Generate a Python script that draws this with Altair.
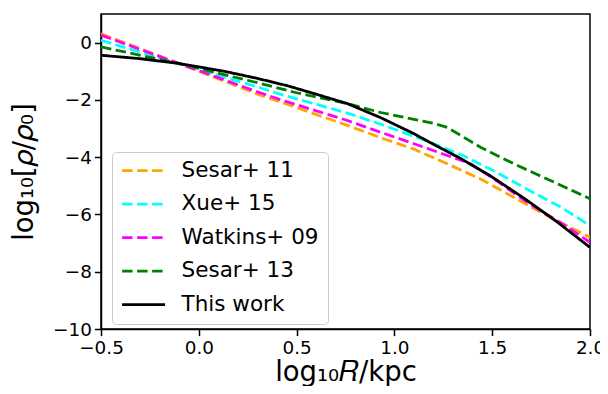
import altair as alt
import pandas as pd

# Values
series_names = ["Sesar+ 11", "Xue+ 15", "Watkins+ 09", "Sesar+ 13", "This work"]
series_colors = ["orange", "cyan", "magenta", "green", "black"]

sesar11_x = [-0.5, -0.1, 0.3, 0.43, 0.76, 0.93, 1.1, 1.27, 1.44, 1.61, 1.78, 2.0]
sesar11_y = [0.31, -0.73, -1.80, -2.10, -2.89, -3.32, -3.72, -4.23, -4.76, -5.40, -6.04, -6.80]

xue15_x = [-0.5, -0.1, 0.3, 0.42, 0.76, 0.93, 1.16, 1.35, 1.52, 1.69, 1.86, 2.0]
xue15_y = [0.08, -0.73, -1.55, -1.81, -2.46, -2.85, -3.42, -3.94, -4.52, -5.16, -5.78, -6.39]

watkins09_x = [-0.5, -0.1, 0.3, 0.43, 0.76, 0.93, 1.1, 1.27, 1.39, 1.52, 1.69, 1.86, 2.0]
watkins09_y = [0.26, -0.73, -1.72, -2.02, -2.72, -3.13, -3.53, -3.94, -4.23, -4.81, -5.63, -6.33, -6.97]

sesar13_x = [-0.5, -0.1, 0.13, 0.3, 0.5, 0.76, 0.93, 1.1, 1.2, 1.27, 1.44, 1.61, 1.78, 2.0]
sesar13_y = [-0.15, -0.73, -1.12, -1.40, -1.75, -2.13, -2.44, -2.68, -2.82, -2.96, -3.65, -4.23, -4.76, -5.45]

thiswork_x = [-0.5, -0.3, -0.1, 0.13, 0.3, 0.45, 0.59, 0.76, 0.93, 1.1, 1.18, 1.34, 1.49, 1.66, 1.83, 2.0]
thiswork_y = [-0.44, -0.56, -0.73, -1.0, -1.25, -1.5, -1.78, -2.13, -2.62, -3.18, -3.48, -4.05, -4.65, -5.42, -6.25, -7.15]

x_ticks = [-0.5, 0.0, 0.5, 1.0, 1.5, 2.0]
y_ticks = [0, -2, -4, -6, -8, -10]

all_x = [sesar11_x, xue15_x, watkins09_x, sesar13_x, thiswork_x]
all_y = [sesar11_y, xue15_y, watkins09_y, sesar13_y, thiswork_y]

rows = []
for name, xs, ys in zip(series_names, all_x, all_y):
    for i, (xv, yv) in enumerate(zip(xs, ys)):
        rows.append({"series": name, "x": xv, "y": yv, "order": i})
df = pd.DataFrame(rows)

dash = [10.5, 4.5]
chart = alt.Chart(df).mark_line(clip=True).encode(
    x=alt.X("x:Q", scale=alt.Scale(domain=[-0.5, 2.0], nice=False, zero=False),
            axis=alt.Axis(values=x_ticks, format=".1f", title="log₁₀𝑅/kpc", titlePadding=1,
                          labelFlush=False, labelOverlap=False)),
    y=alt.Y("y:Q", scale=alt.Scale(domain=[-10, 1], nice=False, zero=False),
            axis=alt.Axis(values=y_ticks, format="d", title="log₁₀[𝜌/𝜌₀]", titlePadding=14,
                          labelFlush=False, labelOverlap=False)),
    color=alt.Color("series:N", scale=alt.Scale(domain=series_names, range=series_colors),
                    legend=alt.Legend(orient="none", legendX=11, legendY=138, title=None,
                                      symbolType="stroke", symbolSize=1849, symbolStrokeWidth=2.8,
                                      labelFont="DejaVu Sans", labelFontSize=21.5, labelColor="black",
                                      fillColor="white", strokeColor="#cccccc", cornerRadius=4,
                                      padding=8.6, rowPadding=11.5, clipHeight=20,
                                      labelOffset=15)),
    strokeDash=alt.StrokeDash("series:N", scale=alt.Scale(domain=series_names,
                              range=[dash, dash, dash, dash, [1, 0]]), legend=None),
    strokeWidth=alt.StrokeWidth("series:N", scale=alt.Scale(domain=series_names,
                                range=[2.8, 2.8, 2.8, 2.8, 1.9]), legend=None),
    order="order:Q",
).properties(
    width=489, height=315,
    autosize=alt.AutoSizeParams(type="none"),
    padding={"left": 93, "top": 6, "right": 10, "bottom": 57},
).configure_view(
    stroke="black", strokeWidth=1.5
).configure_axis(
    grid=False, domainColor="black", domainWidth=1.5, tickColor="black", tickSize=6.6, tickWidth=1.5,
    labelColor="black", labelFont="DejaVu Sans", labelFontSize=18.4,
    titleColor="black", titleFont="DejaVu Sans", titleFontSize=27.5, titleFontWeight="normal",
    labelPadding=3,
)

chart.save("out.html", embed_options={"renderer": "svg", "actions": False})
